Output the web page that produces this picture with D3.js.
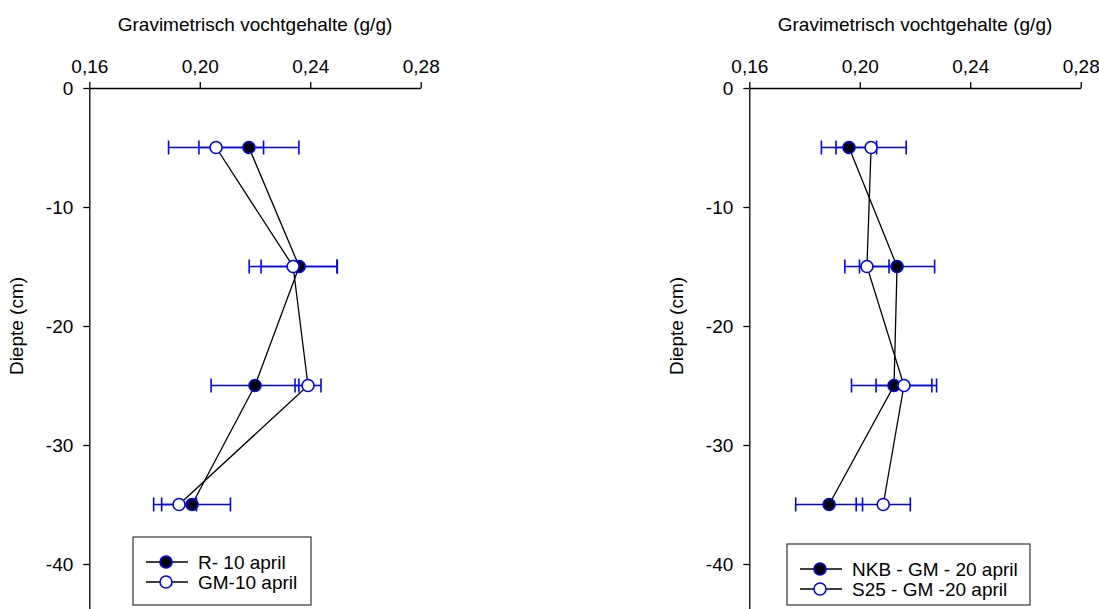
<!DOCTYPE html>
<html><head><meta charset="utf-8">
<script src="https://cdn.jsdelivr.net/npm/d3@7"></script>
<style>
body{margin:0;background:#fff;}
svg{display:block;font-family:"Liberation Sans",Arial,sans-serif;}
</style></head>
<body><svg id="c" width="1099" height="609"></svg>
<script>
const depths = [-5, -15, -25, -35];
const xTicks = [0.16, 0.20, 0.24, 0.28];
const yTicks = [0, -10, -20, -30, -40];
const xTitle = "Gravimetrisch vochtgehalte (g/g)";
const yTitle = "Diepte (cm)";

const leftFilled = [0.2178, 0.2360, 0.2200, 0.1972];
const leftFilledErr = [0.0181, 0.0138, 0.0159, 0.0139];
const leftOpen = [0.2059, 0.2338, 0.2392, 0.1925];
const leftOpenErr = [0.0172, 0.0159, 0.0047, 0.0063];
const leftLegend = ["R- 10 april", "GM-10 april"];

const rightFilled = [0.1961, 0.2135, 0.2124, 0.1889];
const rightFilledErr = [0.0100, 0.0136, 0.0154, 0.0121];
const rightOpen = [0.2041, 0.2026, 0.2160, 0.2085];
const rightOpenErr = [0.0127, 0.0080, 0.0101, 0.0098];
const rightLegend = ["NKB - GM - 20 april", "S25 - GM -20 april"];

const svg = d3.select("#c");
const FS = 19;
const BLUE = "#0000ff";

function panel(x0, series, legend, leg) {
  const g = svg.append("g");
  const x = d3.scaleLinear().domain([0.16, 0.28]).range([x0, x0 + 331.4]);
  const y = d3.scaleLinear().domain([0, -45]).range([88, 623.5]);
  const fmt = d => d3.format(".2f")(d).replace(".", ",");

  const xa = g.append("g").attr("transform", "translate(0,88)")
    .call(d3.axisTop(x).tickValues(xTicks).tickFormat(fmt).tickSize(6).tickSizeOuter(0).tickPadding(9));
  const ya = g.append("g").attr("transform", `translate(${x0},0)`)
    .call(d3.axisLeft(y).tickValues(yTicks).tickFormat(d => String(d)).tickSize(6).tickSizeOuter(0).tickPadding(10));
  [xa, ya].forEach(a => {
    a.selectAll("text").attr("font-size", FS).attr("fill", "#000").attr("font-family", "Liberation Sans, Arial, sans-serif");
    a.selectAll("line,path").attr("stroke", "#000").attr("stroke-width", 1.3);
  });
  ya.selectAll("text").attr("dy", "0.35em");

  g.append("text").attr("x", (x.range()[0] + x.range()[1]) / 2).attr("y", 31)
    .attr("text-anchor", "middle").attr("font-size", FS).text(xTitle);
  g.append("text").attr("transform", `translate(${x0 - 66},326) rotate(-90)`)
    .attr("text-anchor", "middle").attr("font-size", FS).text(yTitle);

  const line = d3.line().x(d => x(d.v)).y(d => y(d.d));
  series.forEach(s => {
    const pts = depths.map((d, i) => ({d, v: s.vals[i], e: s.err[i]}));
    g.append("path").datum(pts).attr("d", line).attr("fill", "none")
      .attr("stroke", "#000").attr("stroke-width", 1.3);
  });
  series.forEach(s => {
    const pts = depths.map((d, i) => ({d, v: s.vals[i], e: s.err[i]}));
    const eb = g.append("g").attr("stroke", BLUE).attr("stroke-width", 1.6);
    pts.forEach(p => {
      eb.append("line").attr("x1", x(p.v - p.e)).attr("x2", x(p.v + p.e)).attr("y1", y(p.d)).attr("y2", y(p.d));
      [p.v - p.e, p.v + p.e].forEach(v => eb.append("line").attr("x1", x(v)).attr("x2", x(v))
        .attr("y1", y(p.d) - 7).attr("y2", y(p.d) + 7));
    });
  });
  series.forEach(s => {
    const pts = depths.map((d, i) => ({d, v: s.vals[i]}));
    g.append("g").selectAll("circle").data(pts).join("circle")
      .attr("cx", p => x(p.v)).attr("cy", p => y(p.d)).attr("r", 6)
      .attr("fill", s.fill).attr("stroke", BLUE).attr("stroke-width", 1.6);
  });

  // legend
  g.append("rect").attr("x", leg.x).attr("y", leg.y).attr("width", leg.w).attr("height", leg.h)
    .attr("fill", "#fff").attr("stroke", "#333").attr("stroke-width", 1.2);
  series.forEach((s, i) => {
    const ly = leg.y + 25 + i * 20;
    g.append("line").attr("x1", leg.x + 13).attr("x2", leg.x + 55).attr("y1", ly).attr("y2", ly)
      .attr("stroke", "#000").attr("stroke-width", 1.3);
    g.append("circle").attr("cx", leg.x + 33).attr("cy", ly).attr("r", 6)
      .attr("fill", s.fill).attr("stroke", BLUE).attr("stroke-width", 1.6);
    g.append("text").attr("x", leg.x + 65).attr("y", ly).attr("dy", "0.35em")
      .attr("font-size", FS).text(legend[i]);
  });
}

panel(89.3, [
  {vals: leftFilled, err: leftFilledErr, fill: "#000"},
  {vals: leftOpen, err: leftOpenErr, fill: "#fff"}
], leftLegend, {x: 133, y: 537, w: 178, h: 68});

panel(749.3, [
  {vals: rightFilled, err: rightFilledErr, fill: "#000"},
  {vals: rightOpen, err: rightOpenErr, fill: "#fff"}
], rightLegend, {x: 787, y: 544, w: 243, h: 61});
</script>
</body></html>
